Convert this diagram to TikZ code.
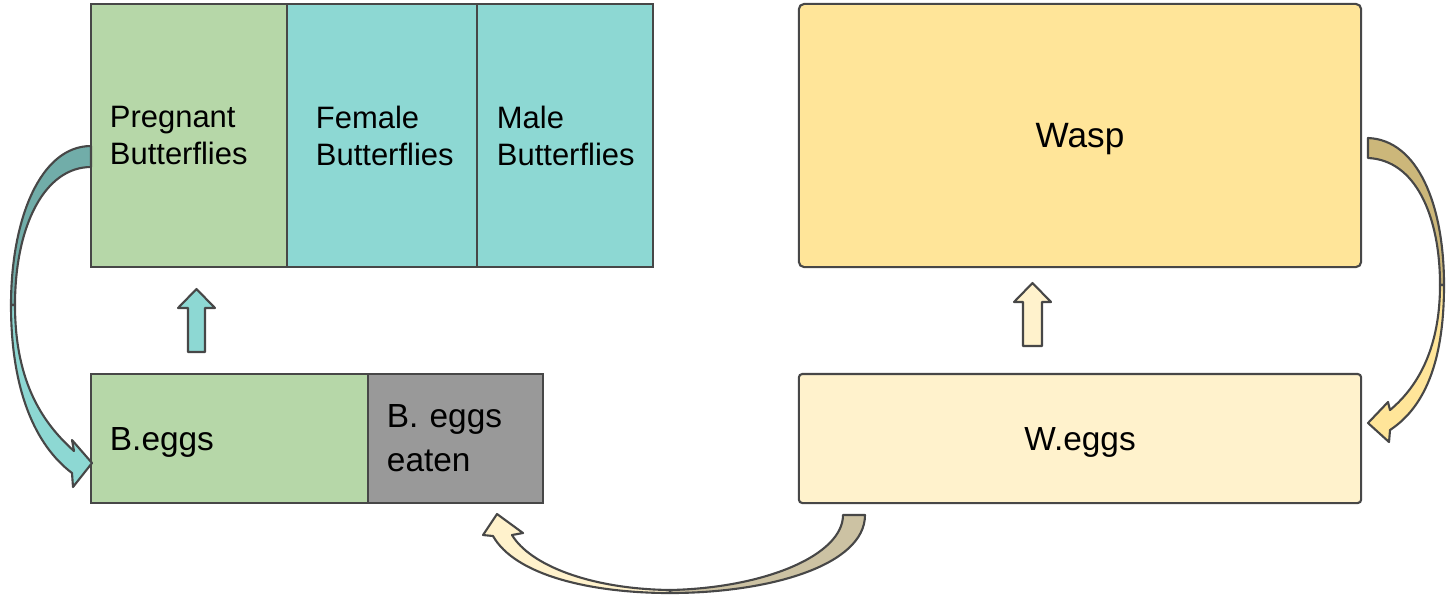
\documentclass[tikz,border=0pt]{standalone}
\usepackage{fontspec}
\setmainfont{Liberation Sans}

\definecolor{edgegray}{HTML}{474747}
\definecolor{sage}{HTML}{B6D7A8}
\definecolor{aqua}{HTML}{8DD8D3}
\definecolor{aquadark}{HTML}{71ADA9}
\definecolor{sand}{HTML}{FFE599}
\definecolor{sanddark}{HTML}{CCB77A}
\definecolor{cream}{HTML}{FFF2CC}
\definecolor{creamdark}{HTML}{CCC2A3}
\definecolor{eatengray}{HTML}{999999}

\begin{document}
\begin{tikzpicture}[x=0.01cm, y=-0.01cm,
    cell/.style={draw=edgegray, line width=0.6pt, inner ysep=0pt, align=left},
    tall/.style={cell, minimum height=2.63cm, font=\fontsize{8.8}{10.5}\selectfont},
    short/.style={cell, minimum height=1.29cm, font=\fontsize{9.5}{12.5}\selectfont},
    blockarrow/.style={draw=edgegray, line width=0.6pt, line join=round}]

\useasboundingbox (0,0) rectangle (1446,596);

% ============================
% Top row: butterflies and wasp
% ============================
\node[tall, fill=sage, text width=1.58cm, inner xsep=0.19cm] (preg) at (189,135.5) {Pregnant\\Butterflies};
\node[tall, fill=aqua, text width=1.32cm, inner xsep=0.29cm] (female) at (382,135.5) {Female\\Butterflies};
\node[tall, fill=aqua, text width=1.36cm, inner xsep=0.20cm] (male) at (565,135.5) {Male\\Butterflies};

\node[cell, fill=sand, rounded corners=1.5pt, minimum width=5.62cm, minimum height=2.63cm,
      align=center, text depth=0pt, font=\fontsize{10}{12}\selectfont] (wasp) at (1080,135.5) {Wasp};

% ============================
% Bottom row: eggs
% ============================
\node[short, fill=sage, text width=2.39cm, inner xsep=0.19cm, text depth=0pt] (beggs) at (229.5,438.5) {B.eggs};
\node[short, fill=eatengray, text width=1.37cm, inner xsep=0.19cm] (eaten) at (455.5,438.5) {B. eggs\\eaten};

\node[short, fill=cream, rounded corners=1pt, minimum width=5.62cm, align=center, text depth=0pt] (weggs) at (1080,438.5) {W.eggs};

% ============================
% Straight up arrows
% ============================
\draw[blockarrow, fill=aqua] (188,352) -- (188,308) -- (178,308) -- (196.5,289)
    -- (215,308) -- (205,308) -- (205,352) -- cycle;
\draw[blockarrow, fill=cream] (1023,346) -- (1023,302) -- (1014,302) -- (1032.5,283)
    -- (1051,302) -- (1042,302) -- (1042,346) -- cycle;

% ============================
% Left loop: pregnant -> B.eggs
% ============================
\draw[blockarrow, fill=aquadark] (91,146) .. controls (40,146) and (11,220) .. (11,305)
    -- (15,305) .. controls (15,225) and (45,167) .. (91,167) -- cycle;
\draw[blockarrow, fill=aqua] (15,305) .. controls (15,385) and (45,425) .. (74,451)
    -- (72,440) -- (92,463) -- (73,487) -- (72,473)
    .. controls (35,445) and (11,390) .. (11,305) -- cycle;

% ============================
% Right loop: wasp -> W.eggs
% ============================
\draw[blockarrow, fill=sanddark] (1368,138) .. controls (1418,140) and (1444,205) .. (1444,285)
    -- (1440,285) .. controls (1440,215) and (1415,160) .. (1368,158) -- cycle;
\draw[blockarrow, fill=sand] (1440,285) .. controls (1440,345) and (1420,385) .. (1390,410)
    -- (1388,402) -- (1368,423) -- (1389,442) -- (1390,430)
    .. controls (1428,405) and (1444,355) .. (1444,285) -- cycle;

% ============================
% Bottom loop: W.eggs -> eaten
% ============================
\draw[blockarrow, fill=creamdark] (843,515) -- (865,515) .. controls (865,565) and (770,593) .. (670,593)
    -- (670,590) .. controls (765,588) and (843,555) .. (843,515) -- cycle;
\draw[blockarrow, fill=cream] (670,590) .. controls (590,589) and (530,565) .. (512,535)
    -- (523,533) -- (497,514) -- (483,535) -- (493,536)
    .. controls (515,575) and (590,593) .. (670,593) -- cycle;

\end{tikzpicture}
\end{document}
